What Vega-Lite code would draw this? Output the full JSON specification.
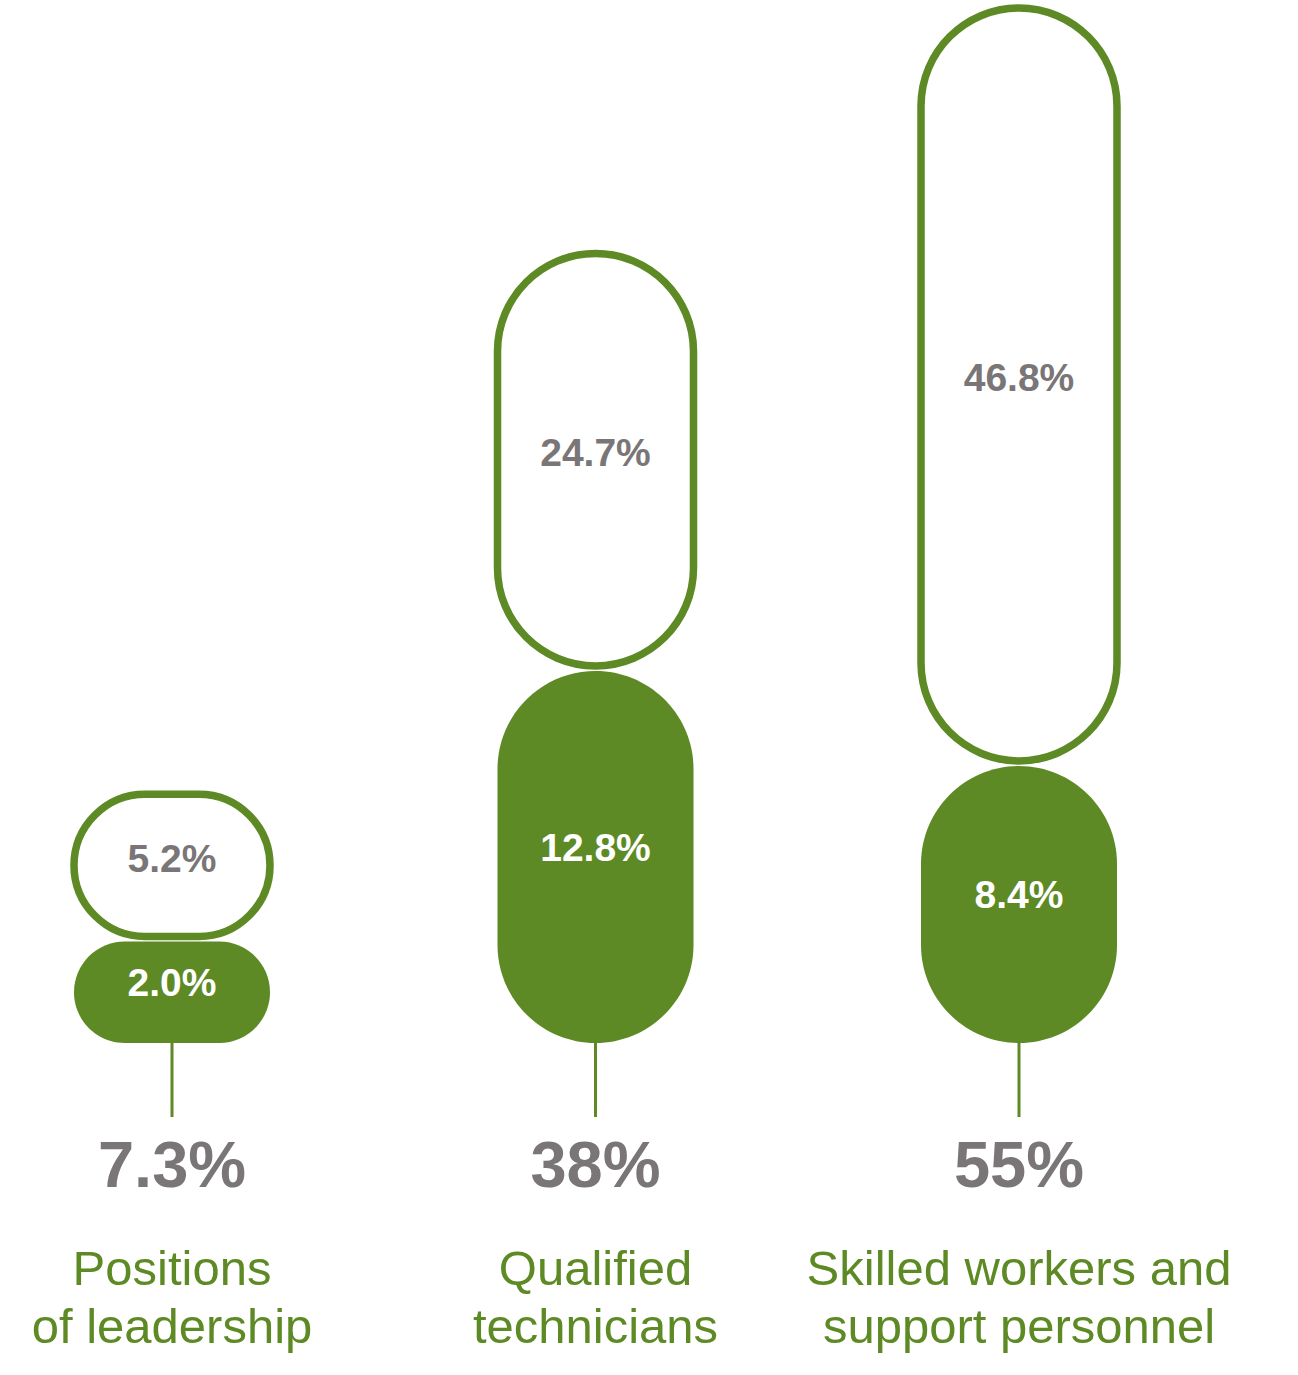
{
  "$schema": "https://vega.github.io/schema/vega-lite/v6.json",
  "width": 1298,
  "height": 1375,
  "autosize": {"type": "fit", "contains": "padding"},
  "padding": 0,
  "background": "white",
  "config": {"view": {"stroke": null}, "font": "Liberation Sans"},
  "datasets": {
    "segments": [
      {"category": "Positions\nof leadership", "segment": "Filled", "value": 2.0, "label": "2.0%"},
      {"category": "Positions\nof leadership", "segment": "Outline", "value": 5.2, "label": "5.2%"},
      {"category": "Qualified\ntechnicians", "segment": "Filled", "value": 12.8, "label": "12.8%"},
      {"category": "Qualified\ntechnicians", "segment": "Outline", "value": 24.7, "label": "24.7%"},
      {"category": "Skilled workers and\nsupport personnel", "segment": "Filled", "value": 8.4, "label": "8.4%"},
      {"category": "Skilled workers and\nsupport personnel", "segment": "Outline", "value": 46.8, "label": "46.8%"}
    ],
    "totals": [
      {"category": "Positions\nof leadership", "total": 7.3, "total_label": "7.3%"},
      {"category": "Qualified\ntechnicians", "total": 38, "total_label": "38%"},
      {"category": "Skilled workers and\nsupport personnel", "total": 55, "total_label": "55%"}
    ]
  },
  "encoding": {
    "x": {
      "field": "category",
      "type": "nominal",
      "scale": {
        "type": "point",
        "domain": ["Positions\nof leadership", "Qualified\ntechnicians", "Skilled workers and\nsupport personnel"],
        "range": [172, 1019],
        "padding": 0
      },
      "axis": null
    }
  },
  "layer": [
    {
      "data": {"name": "segments"},
      "transform": [
        {"stack": "value", "groupby": ["category"], "sort": [{"field": "segment", "order": "ascending"}], "as": ["v0", "v1"]},
        {"calculate": "pow((pow(datum.v0, 0.7) + pow(datum.v1, 0.7)) / 2, 1 / 0.7)", "as": "mid"}
      ],
      "layer": [
        {
          "transform": [{"filter": "datum.segment == 'Filled'"}],
          "mark": {"type": "bar", "width": 196, "cornerRadius": 98, "color": "#5d8a24"},
          "encoding": {
            "y": {
              "field": "v1",
              "type": "quantitative",
              "scale": {"type": "pow", "exponent": 0.7, "domain": [0, 55.2], "range": [1043, 8], "nice": false, "zero": true},
              "axis": null
            },
            "y2": {"field": "v0"}
          }
        },
        {
          "transform": [{"filter": "datum.segment == 'Outline'"}],
          "mark": {"type": "bar", "width": 196, "cornerRadius": 98, "fill": "white", "stroke": "#5d8a24", "strokeWidth": 7.5, "y2Offset": -5},
          "encoding": {
            "y": {"field": "v1", "type": "quantitative"},
            "y2": {"field": "v0"}
          }
        },
        {
          "transform": [{"filter": "datum.segment == 'Filled'"}],
          "mark": {"type": "text", "fontSize": 39, "fontWeight": "bold", "color": "white", "baseline": "alphabetic", "dy": 4, "font": "Liberation Sans"},
          "encoding": {
            "y": {"field": "mid", "type": "quantitative"},
            "text": {"field": "label"}
          }
        },
        {
          "transform": [{"filter": "datum.segment == 'Outline'"}],
          "mark": {"type": "text", "fontSize": 39, "fontWeight": "bold", "color": "#7a7677", "baseline": "alphabetic", "dy": 4, "font": "Liberation Sans"},
          "encoding": {
            "y": {"field": "mid", "type": "quantitative"},
            "text": {"field": "label"}
          }
        }
      ]
    },
    {
      "data": {"name": "totals"},
      "layer": [
        {
          "mark": {"type": "rule", "color": "#5d8a24", "strokeWidth": 3, "y2Offset": 74},
          "encoding": {
            "y": {"datum": 0, "type": "quantitative"},
            "y2": {"datum": 0}
          }
        },
        {
          "mark": {"type": "text", "fontSize": 65, "fontWeight": "bold", "color": "#7a7677", "baseline": "alphabetic", "dy": 144, "font": "Liberation Sans"},
          "encoding": {
            "y": {"datum": 0, "type": "quantitative"},
            "text": {"field": "total_label"}
          }
        },
        {
          "mark": {"type": "text", "fontSize": 49, "color": "#5d8a24", "baseline": "alphabetic", "dy": 242, "lineBreak": "\n", "lineHeight": 58, "font": "Liberation Sans"},
          "encoding": {
            "y": {"datum": 0, "type": "quantitative"},
            "text": {"field": "category"}
          }
        }
      ]
    }
  ]
}
